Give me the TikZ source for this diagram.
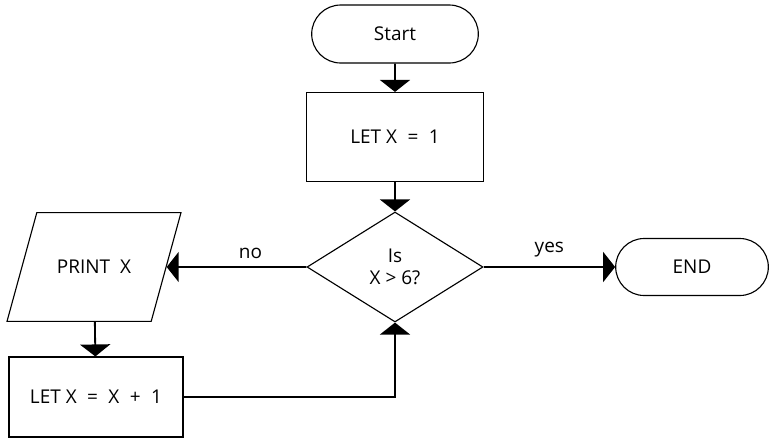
\documentclass[tikz,border=0pt]{standalone}
\usepackage{fontspec}
\setmainfont{Open Sans}
\usetikzlibrary{arrows.meta,shapes.geometric,shapes.misc}
\newcommand{\opsp}{\hspace{0.55em}}

\begin{document}
\begin{tikzpicture}[
  font=\fontsize{13.5}{16}\selectfont, >={Triangle[width=7.5mm, length=3mm]},
  terminal/.style={draw, rounded rectangle, line width=0.8pt, minimum width=4.4cm, minimum height=1.45cm},
  process/.style={draw, rectangle, line width=0.8pt, minimum width=4.4cm, minimum height=2.2cm},
  decision/.style={draw, diamond, aspect=1.6, inner sep=0pt, line width=0.8pt, minimum width=4.4cm, minimum height=2.75cm, align=center},
  output/.style={draw, trapezium, trapezium left angle=73, trapezium right angle=107, trapezium stretches body,
    inner ysep=1.05cm, line width=0.8pt, minimum width=4.35cm, minimum height=2.72cm},
  flow/.style={->, line width=1.3pt},
]
\useasboundingbox (0,0) rectangle (19.55,-11.075);
% main column
\node[terminal] (start) at (9.875,-0.85) {Start};
\node[process, minimum width=4.425cm, minimum height=2.225cm] (init) at (9.875,-3.425) {LET X\opsp=\opsp1};
\node[decision] (cond) at (9.875,-6.675) {Is\\X > 6?};
% left branch
\node[output] (print) at (2.35,-6.675) {PRINT\ \ X};
\node[process, minimum width=4.35cm, minimum height=2cm] (incr) at (2.4,-9.925) {LET X\opsp=\opsp X\opsp+\opsp1};
% right branch
\node[terminal, minimum width=4.05cm, minimum height=1.425cm] (stop) at (17.3,-6.675) {END};
% connectors
\draw[flow] (start) -- (init);
\draw[flow] (init) -- (cond);
\draw[flow] (cond.west) -- node[pos=0.4, above=2pt] (no) {no} (print.east);
\draw[flow] (cond.east) -- node[pos=0.5, above=3pt] (yes) {yes} (stop.west);
\draw[flow] (print) -- (incr);
\draw[flow] (incr.east) -| (cond.south);
\end{tikzpicture}
\end{document}
